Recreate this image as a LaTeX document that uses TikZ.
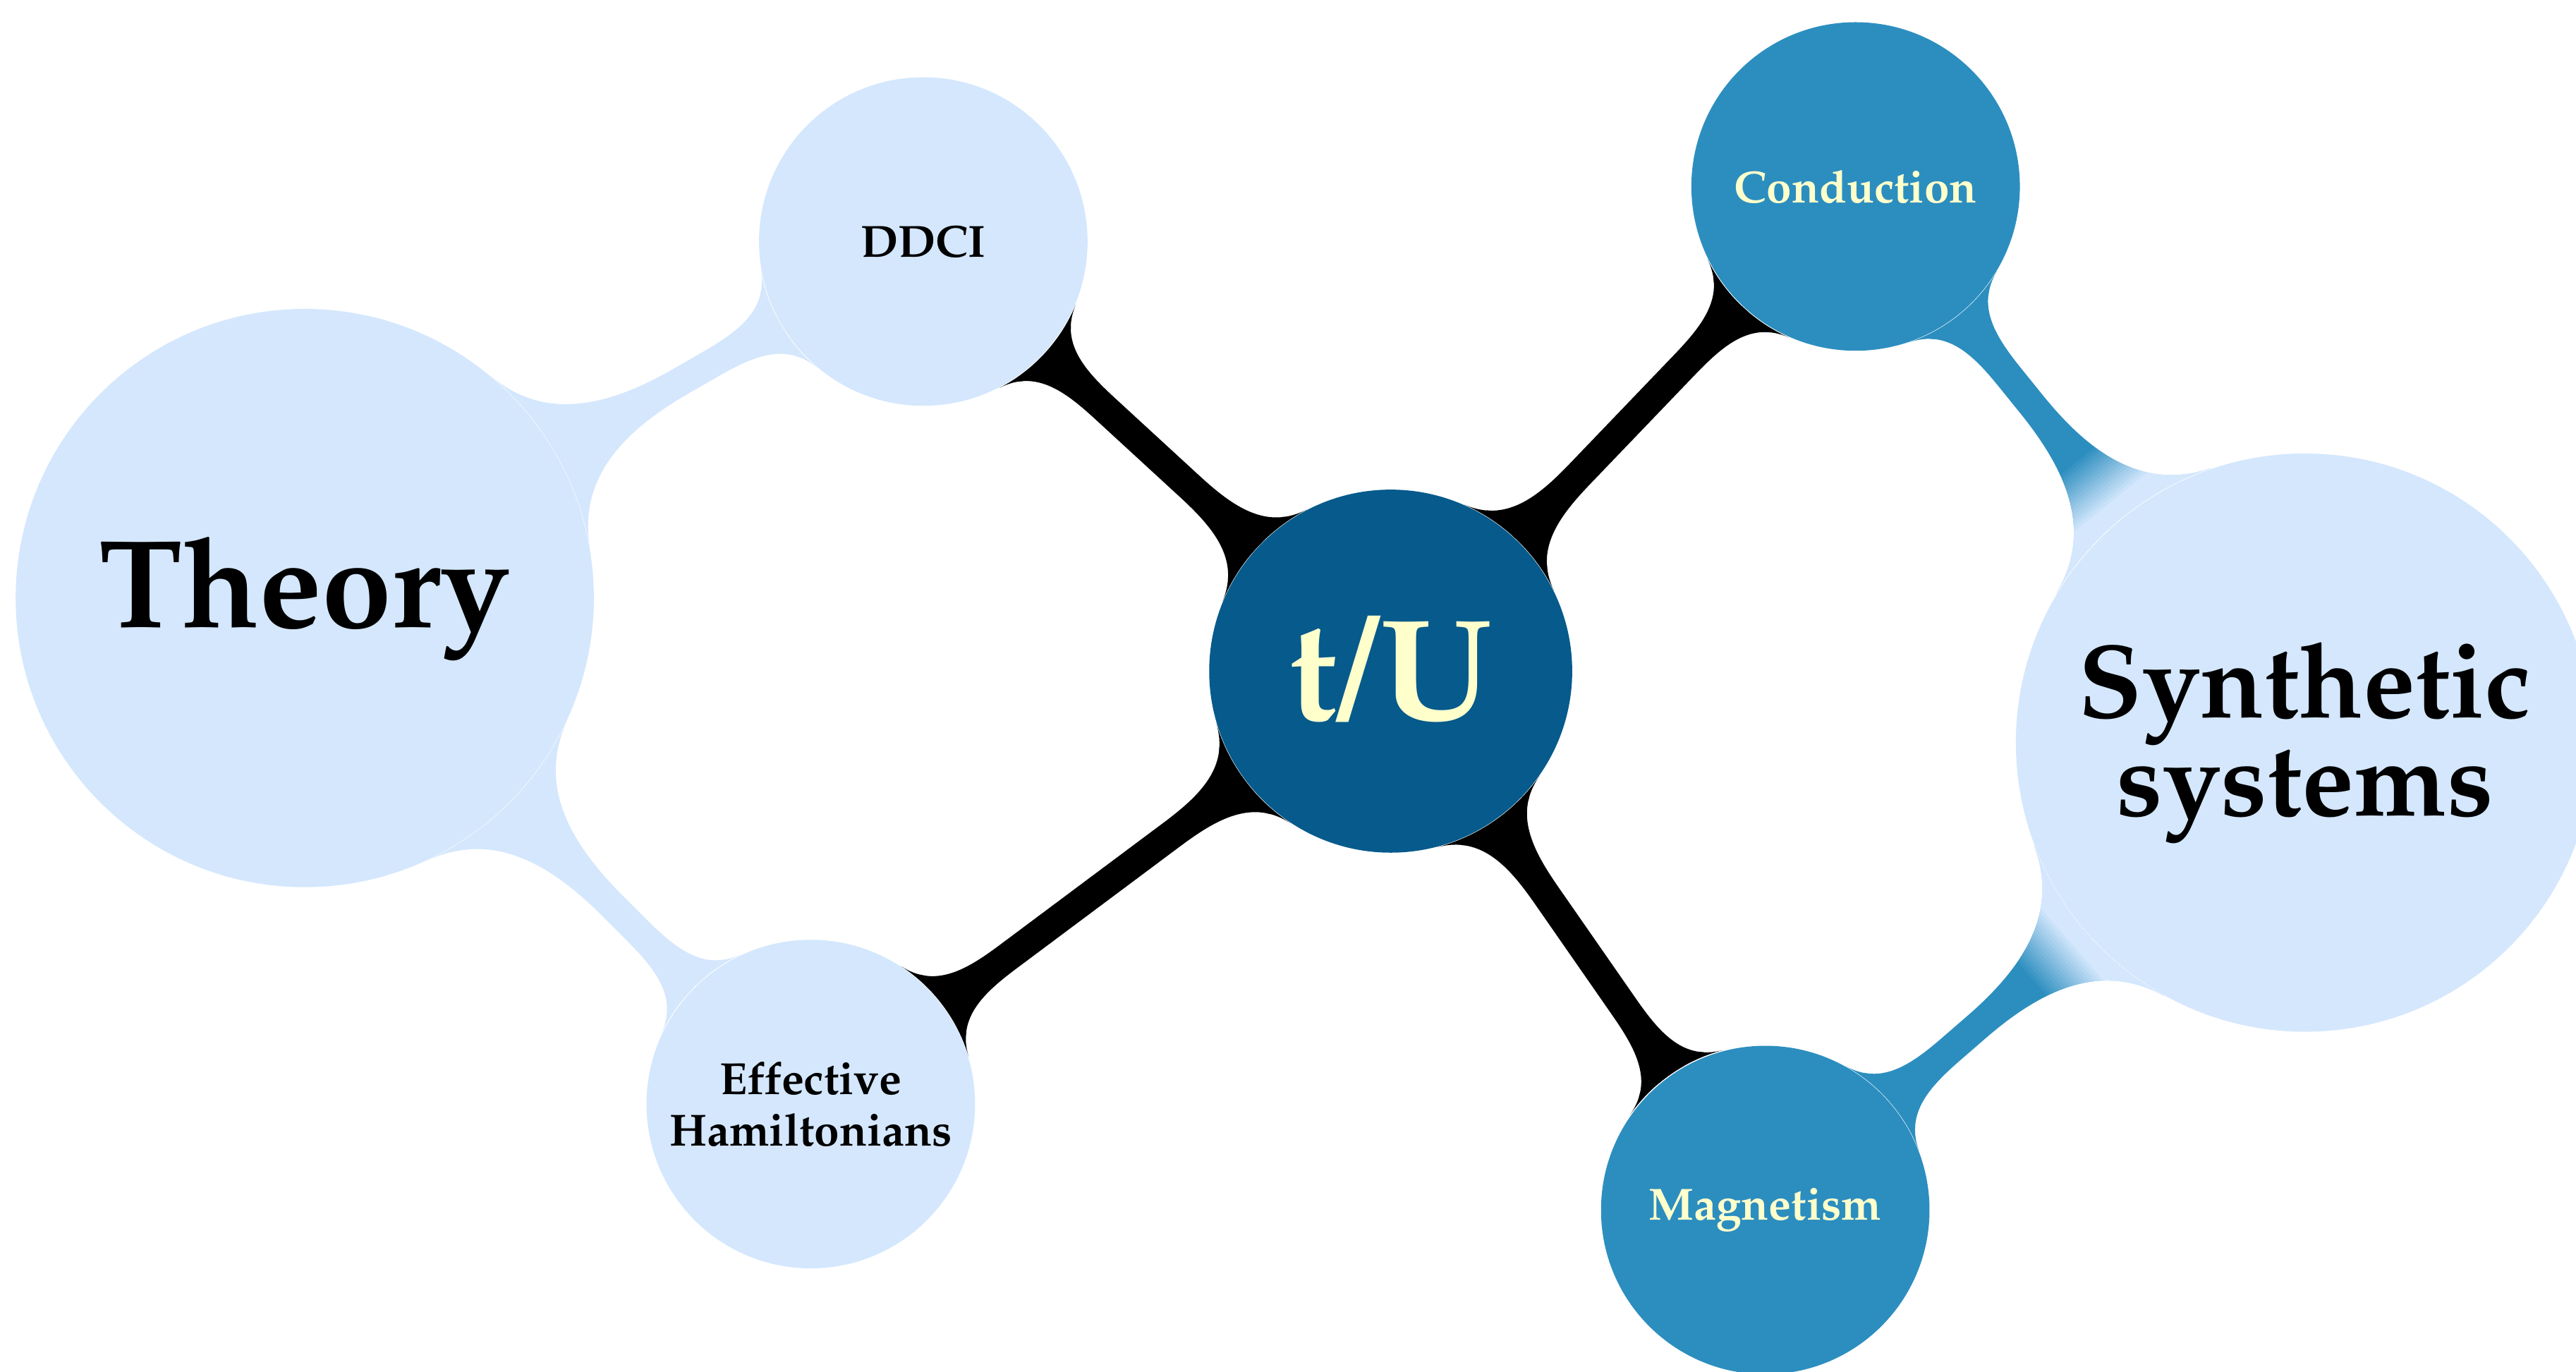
\documentclass[tikz,border=0pt]{standalone}
\IfFileExists{mathpazo.sty}{\usepackage[T1]{fontenc}\usepackage{mathpazo}}{\usepackage{fontspec}\setmainfont{Liberation Serif}}
\usetikzlibrary{mindmap,backgrounds}
\definecolor{rootblue}{HTML}{065A8C}
\definecolor{midblue}{HTML}{2C8EBF}
\definecolor{lightblue}{HTML}{D4E7FD}
\definecolor{txtyellow}{HTML}{FFFFCC}
\begin{document}
\begin{tikzpicture}[x=0.02cm,y=-0.02cm,
  concept/.style={circle, inner sep=0pt, align=center},
  bigconcept/.style={concept, fill=lightblue, text=black, minimum size=7.04cm},
  smallconcept/.style={concept, minimum size=4cm, font=\bfseries\fontsize{15.6}{18}\selectfont},
  lightconcept/.style={smallconcept, fill=lightblue, text=black},
  midconcept/.style={smallconcept, fill=midblue, text=txtyellow},
  bar/.style={line width=0.32cm}]
\useasboundingbox (0,0) rectangle (1568,835);
\node[concept, fill=rootblue, text=txtyellow, minimum size=4.42cm,
      font=\bfseries\fontsize{50}{56}\selectfont] (tu) at (846.5,408.5) {\raisebox{0.05em}{t/U}};
\node[bigconcept, font=\bfseries\fontsize{43.5}{50}\selectfont] (theory) at (185.5,364) {Theory};
\node[bigconcept, font=\bfseries\fontsize{36.2}{34}\selectfont] (synth) at (1403,452) {Synthetic\\systems};
\node[lightconcept] (ddci) at (562,147) {DDCI};
\node[lightconcept] (effham) at (493.5,672) {Effective\\Hamiltonians};
\node[midconcept] (cond) at (1129.5,113.5) {Conduction};
\node[midconcept] (magn) at (1074.5,736.5) {Magnetism};
\begin{scope}[on background layer]
  \fill[white] (0,0) rectangle (1568,835);
  \path[bar] (tu) to[circle connection bar switch color=from (black) to (black)] (ddci);
  \path[bar] (tu) to[circle connection bar switch color=from (black) to (black)] (effham);
  \path[bar] (tu) to[circle connection bar switch color=from (black) to (black)] (cond);
  \path[bar] (tu) to[circle connection bar switch color=from (black) to (black)] (magn);
  \path[bar] (theory) to[circle connection bar switch color=from (lightblue) to (lightblue)] (ddci);
  \path[bar] (theory) to[circle connection bar switch color=from (lightblue) to (lightblue)] (effham);
  \path[bar] (cond) to[circle connection bar switch color=from (midblue) to (midblue)] (synth);
  \path[bar] (magn) to[circle connection bar switch color=from (midblue) to (midblue)] (synth);
  % short fade from mid blue to light blue where the bars meet the big circle
  \begin{scope}[blend mode=lighten, shift={(cond.center)}, rotate=-51.06]
    \foreach \k in {1,...,16} {
      \pgfmathsetmacro\p{\k*100/17}
      \fill[lightblue!\p!midblue] ({213+2*\k},-90) rectangle ({215.5+2*\k},90);
    }
    \fill[lightblue] (247,-90) rectangle (330,90);
  \end{scope}
  \begin{scope}[blend mode=lighten, shift={(magn.center)}, rotate=40.9]
    \foreach \k in {1,...,16} {
      \pgfmathsetmacro\p{\k*100/17}
      \fill[lightblue!\p!midblue] ({213+2*\k},-90) rectangle ({215.5+2*\k},90);
    }
    \fill[lightblue] (247,-90) rectangle (330,90);
  \end{scope}
\end{scope}
\end{tikzpicture}
\end{document}
